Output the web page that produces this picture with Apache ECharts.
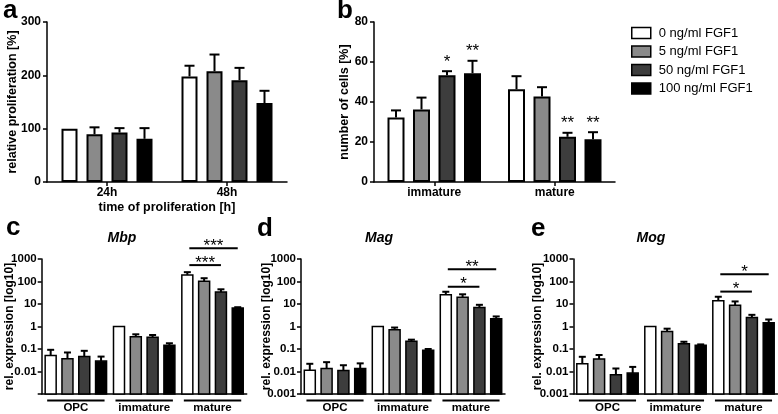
<!DOCTYPE html>
<html><head><meta charset="utf-8">
<script src="https://cdn.jsdelivr.net/npm/echarts@6/dist/echarts.min.js"></script>
<style>html,body{margin:0;padding:0;background:#fff}#c{width:778px;height:414px}</style>
</head><body><div id="c"></div>
<script>
// ---------------- data ----------------
const doses = ['0 ng/ml FGF1', '5 ng/ml FGF1', '50 ng/ml FGF1', '100 ng/ml FGF1'];
const timeCats = ['24h', '48h'];
const stageCats2 = ['immature', 'mature'];
const stageCats3 = ['OPC', 'immature', 'mature'];
const yTicksA = [0, 100, 200, 300];
const yTicksB = [0, 20, 40, 60, 80];
const yTicksLog = [0.001, 0.01, 0.1, 1, 10, 100, 1000];

// panel a: relative proliferation [%], rows = dose, cols = time
const prolifMean = [[100, 198], [89.5, 207.6], [92.6, 190.8], [81, 148]];
const prolifSem  = [[0, 20], [13, 31.4], [8.4, 23.2], [20, 23]];
// panel b: number of cells [%], cols = immature, mature
const cellsMean = [[32.3, 46.4], [36.3, 42.7], [53.4, 22.6], [54.4, 21.4]];
const cellsSem  = [[3.5, 6.5], [5.9, 4.7], [2.0, 2.0], [6.2, 3.5]];
const cellsSig  = [[0, 2, '*'], [0, 3, '**'], [1, 2, '**'], [1, 3, '**']];
// panels c-e: rel. expression, cols = OPC, immature, mature
const mbpMean = [[0.051, 1, 196], [0.037, 0.35, 102], [0.046, 0.33, 34], [0.029, 0.145, 6.6]];
const mbpSem  = [[0.041, 0, 64], [0.033, 0.10, 38], [0.037, 0.09, 11], [0.017, 0.035, 0.6]];
const mbpSig  = [[2, 0, 2, 535, '***'], [2, 0, 3, 2970, '***']];
const magMean = [[0.0114, 1, 25.6], [0.0136, 0.71, 20], [0.011, 0.22, 7], [0.0136, 0.089, 2.2]];
const magSem  = [[0.0106, 0, 9.4], [0.0124, 0.19, 7], [0.008, 0.04, 2.2], [0.0094, 0.011, 0.6]];
const magSig  = [[2, 0, 2, 59, '*'], [2, 0, 3, 350, '**']];
const mogMean = [[0.022, 1, 13.8], [0.036, 0.6, 8.8], [0.0072, 0.17, 2.5], [0.0085, 0.145, 1.45]];
const mogSem  = [[0.023, 0, 7.2], [0.018, 0.2, 4.2], [0.0064, 0.04, 0.8], [0.0075, 0.015, 0.6]];
const mogSig  = [[2, 0, 2, 35.6, '*'], [2, 0, 3, 209, '*']];

// ---------------- style ----------------
const FONT = "'Liberation Sans', Arial, Helvetica, sans-serif";
const doseColors = ['#ffffff', '#8a8a8a', '#3d3d3d', '#000000'];
const LOG_MIN = yTicksLog[0], LOG_MAX = yTicksLog[yTicksLog.length - 1];

const grids = [
  {left: 47, top: 22, width: 240, height: 160},
  {left: 374, top: 22, width: 241, height: 160},
  {left: 41.7, top: 259, width: 205, height: 135},
  {left: 301, top: 259, width: 204, height: 135},
  {left: 573.5, top: 259, width: 204, height: 135}
].map(g => Object.assign({outerBoundsMode: 'none', containLabel: false}, g));

const axisLine = {show: true, lineStyle: {color: '#000', width: 1.5}};
const tickStyle = {color: '#000', width: 1.5};
function lbl(size, extra) {
  return Object.assign({color: '#000', fontFamily: FONT, fontWeight: 'bold', fontSize: size}, extra || {});
}
function fmtLog(v) { return String(parseFloat(Number(v).toPrecision(3))); }

const xAxis = [
  {type: 'category', gridIndex: 0, data: timeCats, axisLine,
   axisTick: {show: true, alignWithLabel: true, length: 4, lineStyle: tickStyle},
   axisLabel: lbl(12, {margin: 5}),
   name: 'time of proliferation [h]', nameLocation: 'middle', nameGap: 19, nameMoveOverlap: false,
   nameTextStyle: lbl(12.5)},
  {type: 'category', gridIndex: 1, data: stageCats2, axisLine,
   axisTick: {show: true, alignWithLabel: true, length: 4, lineStyle: tickStyle},
   axisLabel: lbl(12, {margin: 5})}
];
for (let gi = 2; gi < 5; gi++) {
  xAxis.push({type: 'category', gridIndex: gi, data: stageCats3, axisLine,
    axisTick: {show: false}, axisLabel: lbl(11.5, {margin: 8})});
}

const yAxis = [
  {type: 'value', gridIndex: 0, min: yTicksA[0], max: yTicksA[yTicksA.length - 1], interval: yTicksA[1] - yTicksA[0],
   axisLine, axisTick: {show: true, length: 4, lineStyle: tickStyle}, splitLine: {show: false},
   axisLabel: lbl(12, {margin: 6}),
   name: 'relative proliferation [%]', nameLocation: 'middle', nameGap: 27.5, nameMoveOverlap: false, nameTextStyle: lbl(12.5)},
  {type: 'value', gridIndex: 1, min: yTicksB[0], max: yTicksB[yTicksB.length - 1], interval: yTicksB[1] - yTicksB[0],
   axisLine, axisTick: {show: true, length: 4, lineStyle: tickStyle}, splitLine: {show: false},
   axisLabel: lbl(12, {margin: 6}),
   name: 'number of cells [%]', nameLocation: 'middle', nameGap: 23, nameMoveOverlap: false, nameTextStyle: lbl(12.5)}
];
const logNameGaps = [26, 28, 29.5];
for (let k = 0; k < 3; k++) {
  const hideMin = k === 0;
  yAxis.push({type: 'log', logBase: 10, gridIndex: 2 + k, min: LOG_MIN, max: LOG_MAX,
    axisLine, axisTick: {show: true, length: 4, lineStyle: tickStyle}, splitLine: {show: false}, minorTick: {show: false},
    axisLabel: lbl(11.5, {margin: 5, formatter: v => (hideMin && v < LOG_MIN * 1.5) ? '' : fmtLog(v)}),
    name: 'rel. expression [log10]', nameLocation: 'middle', nameGap: logNameGaps[k], nameMoveOverlap: false,
    nameTextStyle: lbl(12)});
}

const series = [];

// ---- panels a & b: bars ----
function addBars(gi, means, barWidth, barGap) {
  doses.forEach((name, d) => {
    series.push({type: 'bar', name, xAxisIndex: gi, yAxisIndex: gi, data: means[d],
      barWidth, barGap, itemStyle: {color: doseColors[d], borderColor: '#000', borderWidth: 2},
      emphasis: {disabled: true}, silent: true});
  });
}
function addErr(gi, means, sems, pitch, cap) {
  const data = [];
  means.forEach((row, d) => row.forEach((m, c) => {
    if (sems[d][c] > 0) data.push([c, m, m + sems[d][c], d]);
  }));
  series.push({type: 'custom', xAxisIndex: gi, yAxisIndex: gi, data, encode: {x: 0, y: 2},
    z: 5, silent: true, clip: false,
    renderItem(params, api) {
      const c = api.value(0), m = api.value(1), t = api.value(2), d = api.value(3);
      const pb = api.coord([c, m]), pt = api.coord([c, t]);
      const x = pb[0] + (d - 1.5) * pitch;
      return {type: 'group', children: [
        {type: 'line', shape: {x1: x, y1: pb[1], x2: x, y2: pt[1]}, style: {stroke: '#000', lineWidth: 2}},
        {type: 'line', shape: {x1: x - cap / 2, y1: pt[1], x2: x + cap / 2, y2: pt[1]}, style: {stroke: '#000', lineWidth: 2}}
      ]};
    }});
}
addBars(0, prolifMean, 16, '56.25%');
addErr(0, prolifMean, prolifSem, 25, 10);
addBars(1, cellsMean, 17, '50%');
addErr(1, cellsMean, cellsSem, 25.5, 10);

// stars panel b
series.push({type: 'custom', xAxisIndex: 1, yAxisIndex: 1, z: 6, silent: true, clip: false,
  data: cellsSig.map(([c, d]) => [c, cellsMean[d][c] + cellsSem[d][c], d]), encode: {x: 0, y: 1},
  renderItem(params, api) {
    const p = api.coord([api.value(0), api.value(1)]);
    const x = p[0] + (api.value(2) - 1.5) * 25.5;
    return {type: 'text', style: {text: cellsSig[params.dataIndex][2], x, y: p[1] - 9,
      align: 'center', verticalAlign: 'middle', fontSize: 17, fontFamily: FONT, fill: '#000'}};
  }});

// ---- panels c-e: log bars ----
const LOG_BW = 11, LOG_PITCH = 16.8, LOG_CAP = 7;
function addLogPanel(gi, means, sems, sig) {
  doses.forEach((name, d) => {
    series.push({type: 'custom', name, xAxisIndex: gi, yAxisIndex: gi, clip: false, silent: true, z: 3,
      data: means[d].map((m, c) => [c, m, m + sems[d][c]]), encode: {x: 0, y: 1},
      itemStyle: {color: doseColors[d], borderColor: '#000', borderWidth: 1.5},
      renderItem(params, api) {
        const c = api.value(0), m = api.value(1), t = api.value(2);
        const p = api.coord([c, m]), b = api.coord([c, LOG_MIN]), pt = api.coord([c, t]);
        const x = p[0] + (d - 1.5) * LOG_PITCH;
        const ch = [{type: 'rect', shape: {x: x - LOG_BW / 2, y: p[1], width: LOG_BW, height: b[1] - p[1]},
          style: {fill: doseColors[d], stroke: '#000', lineWidth: 1.5}}];
        if (t > m) {
          ch.push({type: 'line', shape: {x1: x, y1: p[1], x2: x, y2: pt[1]}, style: {stroke: '#000', lineWidth: 2}});
          ch.push({type: 'line', shape: {x1: x - LOG_CAP / 2, y1: pt[1], x2: x + LOG_CAP / 2, y2: pt[1]}, style: {stroke: '#000', lineWidth: 2}});
        }
        return {type: 'group', children: ch};
      }});
  });
  // group underlines
  series.push({type: 'custom', xAxisIndex: gi, yAxisIndex: gi, clip: false, silent: true,
    data: stageCats3.map((s, i) => [i, LOG_MIN]), encode: {x: 0, y: 1},
    renderItem(params, api) {
      const p = api.coord([api.value(0), api.value(1)]);
      const half = api.size([1, 0])[0] * 0.42;
      return {type: 'line', shape: {x1: p[0] - half, y1: p[1] + 6.5, x2: p[0] + half, y2: p[1] + 6.5},
        style: {stroke: '#000', lineWidth: 2}};
    }});
  // significance brackets
  series.push({type: 'custom', xAxisIndex: gi, yAxisIndex: gi, clip: false, silent: true, z: 6,
    data: sig.map(([c, a, b, y]) => [c, y, a, b]), encode: {x: 0, y: 1},
    renderItem(params, api) {
      const c = api.value(0), y = api.value(1), a = api.value(2), b = api.value(3);
      const p = api.coord([c, y]);
      const x1 = p[0] + (a - 1.5) * LOG_PITCH + 2, x2 = p[0] + (b - 1.5) * LOG_PITCH;
      return {type: 'group', children: [
        {type: 'line', shape: {x1, y1: p[1], x2, y2: p[1]}, style: {stroke: '#000', lineWidth: 2}},
        {type: 'text', style: {text: sig[params.dataIndex][4], x: (x1 + x2) / 2, y: p[1] - 2,
          align: 'center', verticalAlign: 'middle', fontSize: 17, fontFamily: FONT, fill: '#000'}}
      ]};
    }});
}
addLogPanel(2, mbpMean, mbpSem, mbpSig);
addLogPanel(3, magMean, magSem, magSig);
addLogPanel(4, mogMean, mogSem, mogSig);

// ---------------- text labels ----------------
function txt(text, x, y, font, align) {
  return {type: 'text', x, y, silent: true,
    style: {text, font, fill: '#000', align: align || 'left', verticalAlign: 'middle'}};
}
const letterFont = "bold 26px " + FONT;
const geneFont = "italic bold 14px " + FONT;
const graphic = [
  txt('a', 3, 11, letterFont), txt('b', 337, 11, letterFont),
  txt('c', 6, 228, letterFont), txt('d', 257, 229, letterFont), txt('e', 531, 229, letterFont),
  txt('Mbp', 122, 238, geneFont, 'center'), txt('Mag', 379, 238, geneFont, 'center'), txt('Mog', 651, 238, geneFont, 'center')
];

const chart = echarts.init(document.getElementById('c'), null, {renderer: 'canvas'});
chart.setOption({
  backgroundColor: '#fff',
  animation: false,
  textStyle: {fontFamily: FONT},
  grid: grids,
  xAxis, yAxis, series, graphic,
  legend: {data: doses, orient: 'vertical', left: 631, top: 25.5, padding: 0, icon: 'rect',
    itemWidth: 19, itemHeight: 11, itemGap: 3.5, selectedMode: false,
    itemStyle: {borderColor: '#000', borderWidth: 1.5},
    textStyle: {fontFamily: FONT, fontSize: 13, color: '#000', lineHeight: 15, padding: [0, 0, 0, 3]}}
});
</script></body></html>
